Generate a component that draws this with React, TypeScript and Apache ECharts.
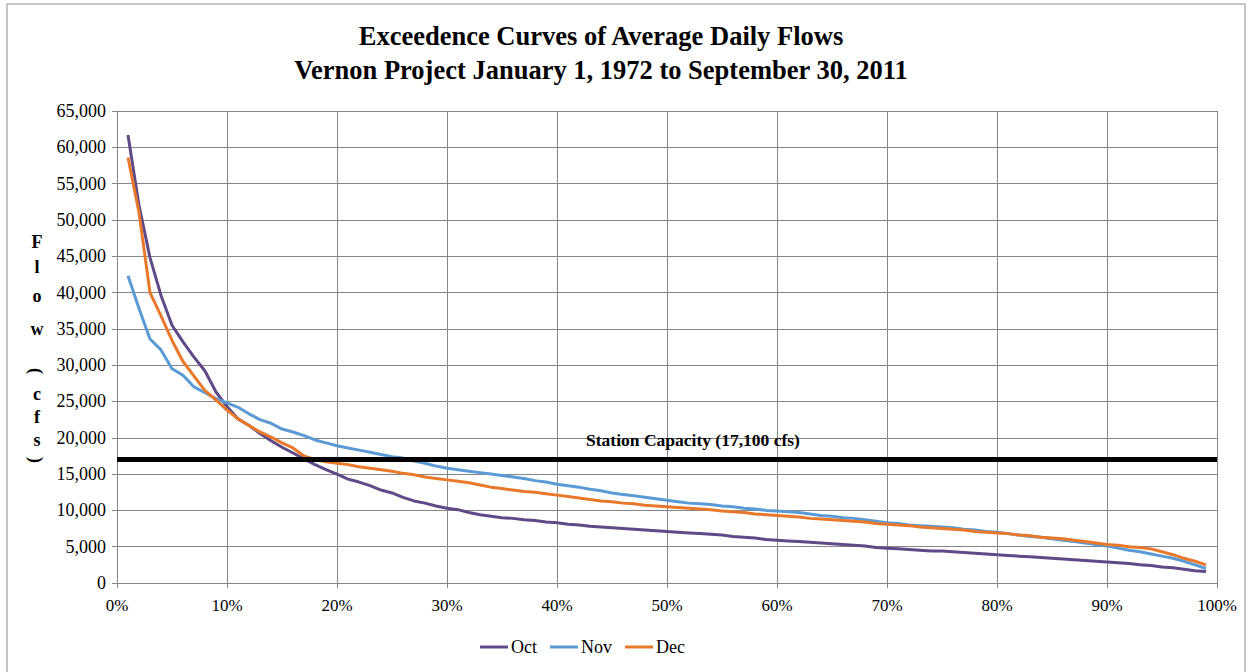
import React, { useEffect, useRef } from "react";
import * as echarts from "echarts";

const exceedancePct = [
  1, 2, 3, 4, 5, 6, 7, 8, 9, 10, 11, 12, 13, 14, 15, 16, 17, 18, 19, 20,
  21, 22, 23, 24, 25, 26, 27, 28, 29, 30, 31, 32, 33, 34, 35, 36, 37, 38, 39, 40,
  41, 42, 43, 44, 45, 46, 47, 48, 49, 50, 51, 52, 53, 54, 55, 56, 57, 58, 59, 60,
  61, 62, 63, 64, 65, 66, 67, 68, 69, 70, 71, 72, 73, 74, 75, 76, 77, 78, 79, 80,
  81, 82, 83, 84, 85, 86, 87, 88, 89, 90, 91, 92, 93, 94, 95, 96, 97, 98, 99,
];

const octFlows = [
  61700, 52000, 44800, 39600, 35500, 33200, 31100, 29200, 26300, 24300,
  22600, 21700, 20600, 19600, 18700, 17900, 17100, 16300, 15600, 15000,
  14300, 13900, 13400, 12800, 12400, 11800, 11300, 11000, 10600, 10300,
  10100, 9700, 9400, 9200, 9000, 8900, 8700, 8600, 8400, 8300,
  8100, 8000, 7800, 7700, 7600, 7500, 7400, 7300, 7200, 7100,
  7000, 6900, 6800, 6700, 6600, 6400, 6300, 6200, 6000, 5900,
  5800, 5700, 5600, 5500, 5400, 5300, 5200, 5100, 4900, 4800,
  4700, 4600, 4500, 4400, 4400, 4300, 4200, 4100, 4000, 3900,
  3800, 3700, 3600, 3500, 3400, 3300, 3200, 3100, 3000, 2900,
  2800, 2700, 2500, 2400, 2200, 2100, 1900, 1700, 1600,
];

const novFlows = [
  42300, 37800, 33600, 32100, 29500, 28600, 27000, 26200, 25400, 24800,
  24200, 23300, 22500, 22000, 21200, 20800, 20300, 19700, 19300, 18900,
  18600, 18300, 18000, 17700, 17400, 17200, 16800, 16500, 16100, 15800,
  15600, 15400, 15200, 15000, 14800, 14600, 14400, 14100, 13900, 13600,
  13400, 13200, 12900, 12700, 12400, 12200, 12000, 11800, 11600, 11400,
  11200, 11000, 10900, 10800, 10600, 10500, 10300, 10200, 10000, 9900,
  9800, 9700, 9500, 9300, 9200, 9000, 8900, 8700, 8500, 8300,
  8200, 8000, 7900, 7800, 7700, 7600, 7400, 7300, 7100, 7000,
  6800, 6600, 6400, 6300, 6100, 5900, 5700, 5500, 5300, 5100,
  4800, 4500, 4300, 4000, 3700, 3400, 3000, 2500, 2000,
];

const decFlows = [
  58600, 51000, 40000, 36800, 33400, 30500, 28500, 26500, 25200, 23800,
  22600, 21700, 20800, 20100, 19300, 18600, 17500, 17000, 16700, 16500,
  16300, 16000, 15800, 15600, 15400, 15100, 14900, 14600, 14400, 14200,
  14000, 13800, 13500, 13200, 13000, 12800, 12600, 12500, 12300, 12100,
  11900, 11700, 11500, 11300, 11200, 11000, 10900, 10700, 10600, 10500,
  10400, 10300, 10200, 10100, 9900, 9800, 9700, 9500, 9400, 9300,
  9200, 9100, 8900, 8800, 8700, 8600, 8500, 8400, 8200, 8100,
  8000, 7900, 7700, 7600, 7500, 7400, 7300, 7100, 7000, 6900,
  6800, 6600, 6500, 6300, 6200, 6100, 5900, 5700, 5500, 5300,
  5200, 5000, 4900, 4700, 4300, 3900, 3400, 3000, 2500,
];

const seriesNames = ["Oct", "Nov", "Dec"];
const stationCapacity = 17100;
const stationLabel = "Station Capacity (17,100 cfs)";
const titleLines = [
  "Exceedence Curves of Average Daily Flows",
  "Vernon Project January 1, 1972 to September 30, 2011",
];
const yNameChars = ["F", "l", "o", "w", "(", "c", "f", "s", ")"];
const yNameY = [242, 267, 296, 329, 371, 394, 417, 440, 460];

const SERIF = "'Liberation Serif', 'Times New Roman', serif";
const COLORS = ["#5E4A86", "#5B9BD5", "#E8792B"];

export default function App() {
  const ref = useRef<HTMLDivElement>(null);

  useEffect(() => {
    if (!ref.current) return;
    const chart = echarts.init(ref.current, null, { renderer: "svg" });
    const toPairs = (vals: number[]) => exceedancePct.map((p, i) => [p, vals[i]]);
    const flows = [octFlows, novFlows, decFlows];

    const graphics: any[] = [
      {
        type: "rect",
        shape: { x: 7, y: 4, width: 1238, height: 700 },
        style: { fill: "none", stroke: "#8c8c8c", lineWidth: 1 },
        silent: true,
      },
      ...titleLines.map((t, i) => ({
        type: "text",
        x: 601,
        y: i === 0 ? 36 : 69.5,
        style: {
          text: t,
          fontFamily: SERIF,
          fontWeight: "bold",
          fontSize: 26.5,
          fill: "#000",
          align: "center",
          verticalAlign: "middle",
        },
      })),
      ...yNameChars.map((c, i) => {
        const paren = c === "(" || c === ")";
        return {
          type: "text",
          x: paren ? 36 : 37,
          y: yNameY[i],
          rotation: paren ? -Math.PI / 2 : 0,
          style: {
            text: c,
            fontFamily: SERIF,
            fontWeight: "bold",
            fontSize: 18,
            fill: "#000",
            align: "center",
            verticalAlign: "middle",
          },
        };
      }),
    ];

    chart.setOption({
      animation: false,
      backgroundColor: "#fff",
      color: COLORS,
      grid: { left: 117, right: 33, top: 111, bottom: 89, containLabel: false },
      legend: {
        data: seriesNames,
        left: 475,
        top: 633,
        icon: "rect",
        itemWidth: 28,
        itemHeight: 3,
        itemGap: 13,
        textStyle: { fontFamily: SERIF, fontSize: 18, color: "#000", padding: [0, 0, 0, -2] },
      },
      graphic: graphics,
      xAxis: {
        type: "value",
        min: 0,
        max: 100,
        interval: 10,
        axisLine: { show: true, lineStyle: { color: "#868686", width: 1 } },
        axisTick: { show: true, inside: false, length: 5, lineStyle: { color: "#868686" } },
        axisLabel: {
          formatter: "{value}%",
          fontFamily: SERIF,
          fontSize: 17,
          color: "#000",
          margin: 14,
        },
        splitLine: { show: true, lineStyle: { color: "#868686", width: 1 } },
      },
      yAxis: {
        type: "value",
        min: 0,
        max: 65000,
        interval: 5000,
        axisLine: { show: true, lineStyle: { color: "#868686", width: 1 } },
        axisTick: { show: true, inside: false, length: 5, lineStyle: { color: "#868686" } },
        axisLabel: {
          formatter: (v: number) => v.toLocaleString("en-US"),
          fontFamily: SERIF,
          fontSize: 18,
          color: "#000",
          margin: 11,
        },
        splitLine: { show: true, lineStyle: { color: "#868686", width: 1 } },
      },
      series: [
        ...seriesNames.map((n, i) => ({
          name: n,
          type: "line",
          data: toPairs(flows[i]),
          symbol: "none",
          lineStyle: { width: 3, color: COLORS[i] },
          z: 2 + i,
        })),
        {
          name: "capacity",
          type: "line",
          data: [],
          z: 10,
          markLine: {
            silent: true,
            symbol: "none",
            z: 10,
            data: [{ yAxis: stationCapacity }],
            lineStyle: { color: "#000", width: 5, type: "solid" },
            label: {
              show: true,
              position: "insideMiddleTop",
              formatter: stationLabel,
              fontFamily: SERIF,
              fontWeight: "bold",
              fontSize: 17.5,
              color: "#000",
              distance: 10,
              offset: [26, 0],
            },
          },
        },
      ],
    });
    return () => chart.dispose();
  }, []);

  return (
    <div
      ref={ref}
      style={{ position: "fixed", left: 0, top: 0, width: 1250, height: 672 }}
    />
  );
}
